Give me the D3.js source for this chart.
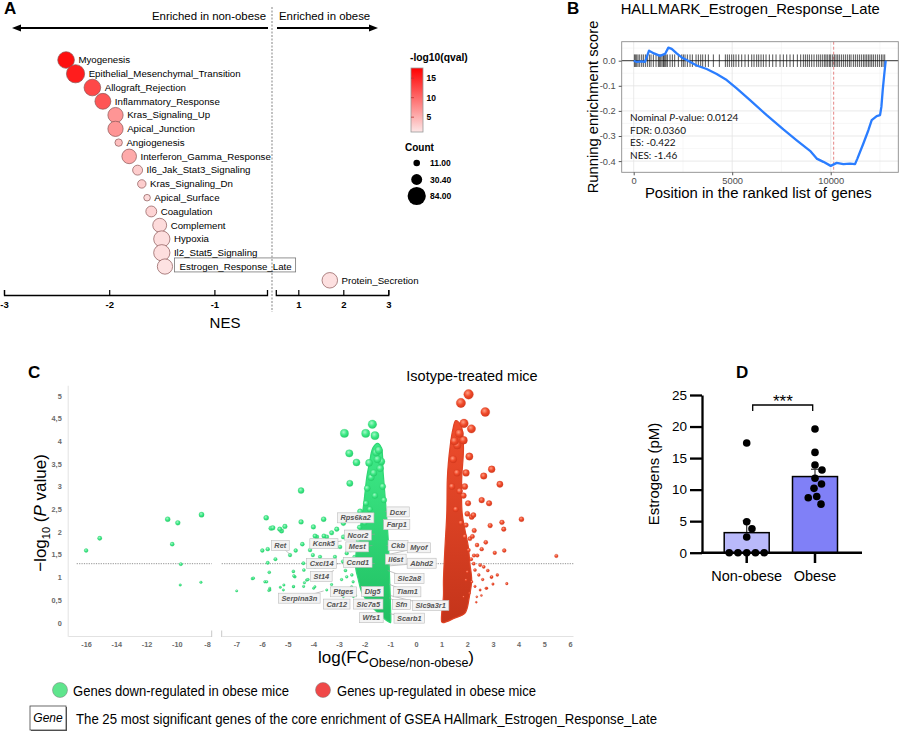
<!DOCTYPE html>
<html><head><meta charset="utf-8">
<script src="https://cdn.jsdelivr.net/npm/d3@7"></script>
<style>
body{margin:0;background:#fff}
svg{display:block}
text{font-family:"Liberation Sans",Arial,sans-serif}
</style>
</head><body>
<svg id="fig" width="900" height="734"></svg>
<script>
// ================= DATA =================
// Panel A – GSEA hallmark dot plot
const pathways = ["Myogenesis","Epithelial_Mesenchymal_Transition","Allograft_Rejection","Inflammatory_Response","Kras_Signaling_Up","Apical_Junction","Angiogenesis","Interferon_Gamma_Response","Il6_Jak_Stat3_Signaling","Kras_Signaling_Dn","Apical_Surface","Coagulation","Complement","Hypoxia","Il2_Stat5_Signaling","Estrogen_Response_Late","Protein_Secretion"];
const pathwayNES = [-2.41,-2.32,-2.16,-2.06,-1.94,-1.94,-1.91,-1.81,-1.73,-1.69,-1.64,-1.60,-1.52,-1.50,-1.50,-1.47,1.70];
const pathwayCount = [70,84,70,64,59,59,14,54,25,18,11,30,49,67,67,59,61];
const pathwayLogQ = [16.5,15.5,12.5,11.5,7,7,4,5.5,3,3,2,2.5,2,1.8,1.8,1.5,1.6];
const highlightedPathway = "Estrogen_Response_Late";
const nesTicksLeft = [-3,-2,-1];
const nesTicksRight = [1,2,3];
const qLegendTicks = [5,10,15];
const countLegend = [11,30.4,84];
const countLegendLabels = ["11.00","30.40","84.00"];

// Panel B – running enrichment score
const rankPos = [0,152,406,575,778,1032,1337,1591,1760,1929,2183,2437,2690,3198,3706,4213,4721,5228,5905,6751,7597,8274,8951,9289,9628,10000,10305,10643,10981,11235,11354,11658,11912,12081,12335,12504,12572,12640,12724,12792];
const runningES = [0,-0.005,-0.003,-0.005,0.040,0.029,0.019,0.027,0.052,0.047,0.029,0.013,0.003,-0.019,-0.033,-0.053,-0.077,-0.110,-0.157,-0.217,-0.274,-0.317,-0.359,-0.390,-0.403,-0.419,-0.407,-0.412,-0.410,-0.412,-0.390,-0.330,-0.277,-0.237,-0.221,-0.217,-0.184,-0.117,-0.050,0.0];
const hitRanks = [34,85,152,220,305,406,491,592,694,795,880,998,1134,1252,1303,1371,1438,1506,1540,1590,1641,1709,1844,1963,2081,2267,2436,2521,2606,2724,2859,2978,3164,3282,3401,3502,3638,3790,4044,4348,4653,4754,4856,4974,5076,5194,5330,5482,5651,5820,5990,6108,6243,6345,6463,6582,6717,6886,7056,7225,7428,7597,7766,7935,8105,8308,8477,8612,8714,8815,8917,9035,9154,9289,9391,9492,9594,9695,9763,9847,9932,10000,10101,10186,10270,10355,10440,10541,10643,10744,10846,10947,11032,11150,11252,11353,11455,11556,11658,11742,11827,11912,11996,12081,12166,12267,12369,12470,12572,12656,12741];
const esTicks = [0,-0.1,-0.2,-0.3,-0.4];
const rankTicks = [0,5000,10000];
const leadingEdgeRank = 10150;
const statLines = ["Nominal |P|-value: 0.0124","FDR: 0.0360","ES: -0.422","NES: -1.46"];

// Panel C – volcano plot
const downFC = [-16.0,-15.1,-10.6,-9.93,-10.3,-8.36,-9.73,-9.77,-8.4,
 -4.48,-5.84,-5.65,-5.58,-5.31,-5.24,-5.11,-4.48,-4.0,-3.94,-4.43,-5.99,-5.78,-4.69,-4.91,-4.02,-5.48,-5.78,-5.72,-6.38,-5.89,-5.74,-5.7,-6.99,-5.29,-5.15,-4.78,-4.76,-4.37,-4.77,-4.38,-3.99,-4.21,-4.35,
 -2.58,-2.32,-2.6,-2.79,-1.96,-1.70,-1.60,-1.83,-1.9,-1.95,-1.45,-3.6,
 -4.13,-3.87,-3.48,-3.29,-3.16,-2.96,-2.83,-4.39,-4.72,-4.26,-3.94,-3.48,-3.29,-3.03,-2.70,-2.51,-2.44,-2.83,-4.78,-3.94,-3.74,-3.22,-5.17,-6.34,-5.82,-5.69,
 -3.59,-3.29,-3.09,-2.83,-2.31,-2.31,-2.18,-2.70,-2.55,
 -1.5,-1.4,-1.75,-1.3,-2.0,-1.6,-1.55,-1.8,-1.35,-1.65,-2.1,-1.25,
 -2.6,-2.75,-2.5,-2.9,-2.4,-2.65,-2.55,-2.45,-2.85,-2.35,-2.2,-2.25];
const downP = [1.59,1.86,2.28,2.20,1.73,2.38,1.29,0.83,0.89,
 2.91,2.31,2.08,2.09,2.06,2.02,2.12,2.22,2.11,1.91,1.73,1.59,1.62,1.59,1.49,1.49,1.40,1.32,1.11,0.97,0.90,0.71,0.76,0.70,0.78,0.83,1.13,1.03,1.16,0.80,0.80,0.76,0.95,0.88,
 3.07,3.53,3.73,4.17,4.17,4.37,4.12,3.52,2.96,2.63,3.80,2.28,
 1.60,1.89,1.89,1.75,1.45,1.67,1.89,1.31,1.01,0.94,0.79,0.72,0.84,0.72,1.01,0.79,0.57,0.57,0.79,1.23,1.45,1.23,0.72,0.98,0.90,0.72,
 1.91,1.98,2.06,2.19,2.34,1.89,2.45,1.53,1.71,
 3.6,3.4,3.2,3.0,2.2,2.8,3.75,2.5,3.55,3.3,1.95,2.7,
 1.3,1.15,1.05,0.95,1.45,0.7,1.6,0.9,1.35,0.6,2.1,1.8];
const upFC = [2.05,1.75,2.70,1.87,2.16,1.69,1.85,1.61,2.08,2.95,2.64,3.27,2.56,2.85,2.03,2.24,4.11,3.35,2.89,3.42,2.27,2.38,2.72,3.44,3.07,2.56,2.17,2.2,2.39,2.26,5.47,
 2.50,2.64,2.95,3.17,3.54,2.76,2.5,2.17,2.30,2.0,1.95,2.08,1.85,2.37,2.94,2.73,
 1.5,1.45,1.6,1.7,1.4,1.75,1.55,1.9,1.95,1.9,1.85,2.0,1.95,2.1,2.05,2.15,
 2.3,2.45,2.6,2.35,2.55,2.8,3.0,2.25];
const upP = [5.03,4.84,4.64,4.39,4.27,4.17,4.02,3.91,3.66,3.38,3.23,3.05,2.70,2.63,2.63,2.37,2.28,2.21,2.14,2.06,2.03,1.71,1.77,1.59,1.54,1.62,2.33,1.9,1.48,1.48,1.47,
 1.27,1.23,1.01,1.05,0.86,0.76,0.72,0.90,1.16,1.12,0.94,0.65,0.57,0.57,1.0,0.76,
 4.0,3.6,3.3,2.9,3.0,2.2,2.5,1.9,3.3,3.0,2.8,2.4,2.15,1.85,1.6,1.4,
 0.8,1.05,0.95,0.45,0.6,1.15,0.85,1.3];
// outlines of the dense clouds of genes (logFC, -log10 P)
const downCloudFC = [-1.00,-1.15,-1.45,-1.8,-2.1,-2.25,-2.35,-2.35,-2.3,-2.2,-2.1,-2.0,-1.92,-1.82,-1.68,-1.5,-1.35,-1.28,-1.18,-1.08,-1.03,-0.99,-0.99];
const downCloudP  = [0.0,0.05,0.2,0.4,0.65,0.95,1.2,1.45,1.7,2.0,2.35,2.8,3.2,3.5,3.85,3.95,3.85,3.3,2.6,1.8,1.0,0.3,0.0];
const upCloudFC = [1.0,1.07,1.07,1.13,1.2,1.22,1.26,1.33,1.43,1.55,1.75,1.85,1.78,1.8,1.91,2.04,2.1,2.17,2.08,1.91,1.5,1.05];
const upCloudP  = [0.02,0.6,0.94,1.67,2.41,3.14,3.51,3.88,4.24,4.45,4.35,3.88,3.14,2.41,2.04,1.67,1.31,0.94,0.57,0.21,0.1,0.0];
const geneNames = ["Dcxr","Farp1","Rps6ka2","Ncor2","Kcnk5","Mest","Ret","Ckb","Myof","Il6st","Abhd2","Cxcl14","Ccnd1","St14","Slc2a8","Ptges","Dlg5","Tiam1","Serpina3n","Car12","Slc7a5","Sfn","Slc9a3r1","Wfs1","Scarb1"];
const geneFC = [-1.2,-1.2,-1.6,-1.6,-2.9,-1.7,-4.9,-1.15,-1.1,-1.15,-1.08,-3.0,-1.6,-3.2,-1.1,-2.5,-1.3,-1.05,-3.6,-2.6,-1.4,-1.05,-1.02,-1.3,-1.02];
const geneP  = [2.45,2.2,2.4,1.95,1.8,1.7,1.5,1.7,1.5,1.35,1.25,1.3,1.3,1.15,1.15,0.8,0.8,0.85,0.7,0.5,0.5,0.55,0.6,0.2,0.2];
const geneLabelFC = [-0.70,-0.75,-2.35,-2.26,-3.59,-2.29,-5.29,-0.70,0.11,-0.79,0.22,-3.68,-2.27,-3.69,-0.26,-2.83,-1.69,-0.34,-4.55,-3.09,-1.86,-0.57,0.57,-1.74,-0.26];
const geneLabelP  = [2.44,2.16,2.31,1.93,1.74,1.67,1.70,1.70,1.65,1.40,1.31,1.30,1.33,1.02,0.97,0.68,0.69,0.68,0.54,0.41,0.41,0.40,0.38,0.11,0.10];
const volcTicksLeft = [-16,-14,-12,-10,-8];
const volcTicksRight = [-7,-6,-5,-4,-3,-2,-1,0,1,2,3,4,5,6];
const volcTicksY = [0,0.5,1,1.5,2,2.5,3,3.5,4,4.5,5];
const pThreshold = 1.3;

// Panel D – estrogens
const groups = ["Non-obese","Obese"];
const nonObeseValues = [17.4,4.9,3.8,2.5,0,0,0,0,0];
const obeseValues = [19.6,15.9,13.9,13.1,11.8,10.9,10.2,8.9,8.7,7.7];
const estrogenTicks = [0,5,10,15,20,25];

// ================= DRAWING =================
const svg = d3.select("#fig");
svg.append("rect").attr("width",900).attr("height",734).attr("fill","#fff");
const defs = svg.append("defs");

function styleAxis(g, col, size, weight){
  g.selectAll("text").attr("fill",col).style("font-size",size+"px").style("font-weight",weight)
   .style("font-family",'"Liberation Sans",Arial,sans-serif');
}

// ---------- Panel A ----------
const gA = svg.append("g");
const xAL = d3.scaleLinear().domain([-3,-0.5]).range([4,267]);
const xAR = d3.scaleLinear().domain([0.5,3]).range([275.8,388.3]);
const xA = v => v < 0 ? xAL(v) : xAR(v);
const yA = d3.scalePoint().domain(pathways).range([60,280.3]);
const rA = d3.scaleSqrt().domain([0,84]).range([0,9.1]);
const cA = d3.scaleLinear().domain([1.2,17.6]).range(["#fde6e6","#ff0000"]);

gA.append("text").attr("x",4).attr("y",14).text("A").style("font-weight","bold").style("font-size","17px");
gA.append("line").attr("x1",272).attr("x2",272).attr("y1",7).attr("y2",312)
  .attr("stroke","#999").attr("stroke-width",1.2).attr("stroke-dasharray","2,1.5");
gA.append("text").attr("x",266).attr("y",20).attr("text-anchor","end").text("Enriched in non-obese").style("font-size","11.4px");
gA.append("text").attr("x",279).attr("y",20).text("Enriched in obese").style("font-size","11.4px");
gA.append("line").attr("x1",268).attr("x2",20).attr("y1",28).attr("y2",28).attr("stroke","#000").attr("stroke-width",1.8);
gA.append("path").attr("d","M12,28L21,24.5L21,31.5Z").attr("fill","#000");
gA.append("line").attr("x1",277).attr("x2",370).attr("y1",28).attr("y2",28).attr("stroke","#000").attr("stroke-width",1.8);
gA.append("path").attr("d","M378,28L369,24.5L369,31.5Z").attr("fill","#000");

const aAxL = gA.append("g").attr("transform","translate(0,295)")
  .call(d3.axisBottom(xAL).tickValues(nesTicksLeft).tickSizeInner(-5).tickSizeOuter(-5).tickPadding(6).tickFormat(d=>String(d)));
const aAxR = gA.append("g").attr("transform","translate(0,295)")
  .call(d3.axisBottom(xAR).tickValues(nesTicksRight).tickSizeInner(-5).tickSizeOuter(-5).tickPadding(6).tickFormat(d=>String(d)));
[aAxL,aAxR].forEach(g=>{g.select(".domain").attr("stroke","#000").attr("stroke-width",1.3);
  g.selectAll(".tick line").attr("stroke","#000").attr("stroke-width",1.2); styleAxis(g,"#000",9.5,"bold");});
gA.append("text").attr("x",225).attr("y",328).attr("text-anchor","middle").text("NES").style("font-size","15px");

pathways.forEach((p,i)=>{
  const cx = xA(pathwayNES[i]), cy = yA(p), r = rA(pathwayCount[i]);
  gA.append("circle").attr("cx",cx).attr("cy",cy).attr("r",r)
    .attr("fill",cA(pathwayLogQ[i])).attr("stroke","#8a5555").attr("stroke-width",0.7);
  const t = gA.append("text").attr("x",cx+r+(p===highlightedPathway?7:4)).attr("y",cy+3.3).text(p).style("font-size","9.7px");
  if(p===highlightedPathway){
    const w = t.node().getComputedTextLength();
    gA.insert("rect","text").attr("x",cx+r+2).attr("y",cy-8.6).attr("width",w+9).attr("height",14)
      .attr("fill","#fff").attr("stroke","#777").attr("stroke-width",0.8);
    t.raise();
  }
});

// color legend
const grad = defs.append("linearGradient").attr("id","qgrad").attr("x1",0).attr("x2",0).attr("y1",0).attr("y2",1);
grad.append("stop").attr("offset","0%").attr("stop-color",cA(17.6));
grad.append("stop").attr("offset","100%").attr("stop-color",cA(1.2));
const yQ = d3.scaleLinear().domain([1.2,17.6]).range([132,68]);
gA.append("text").attr("x",410).attr("y",61).text("-log10(qval)").style("font-size","10.3px").style("font-weight","bold");
gA.append("rect").attr("x",411).attr("y",68).attr("width",12).attr("height",64).attr("fill","url(#qgrad)").attr("stroke","#999").attr("stroke-width",0.8);
qLegendTicks.forEach(q=>{
  gA.append("line").attr("x1",411).attr("x2",414).attr("y1",yQ(q)).attr("y2",yQ(q)).attr("stroke","#b33").attr("stroke-width",0.8);
  gA.append("text").attr("x",426.5).attr("y",yQ(q)+3.2).text(q).style("font-size","8.5px").style("font-weight","bold");
});
gA.append("text").attr("x",405).attr("y",151).text("Count").style("font-size","10px").style("font-weight","bold");
const countY = d3.scalePoint().domain(countLegend).range([163,196]);
countLegend.forEach((c,i)=>{
  gA.append("circle").attr("cx",416.7).attr("cy",countY(c)).attr("r",rA(c)).attr("fill","#000");
  gA.append("text").attr("x",430).attr("y",countY(c)+3.2).text(countLegendLabels[i]).style("font-size","8.5px").style("font-weight","bold");
});

// ---------- Panel B ----------
const gB = svg.append("g");
const xB = d3.scaleLinear().domain([-609,13431]).range([621.7,898.3]);
const yB = d3.scaleLinear().domain([0.0757,-0.4446]).range([41.7,172.3]);
gB.append("text").attr("x",567).attr("y",13.5).text("B").style("font-weight","bold").style("font-size","17px");
gB.append("text").attr("x",620.7).attr("y",13.5).text("HALLMARK_Estrogen_Response_Late").style("font-size","14.8px");
gB.append("rect").attr("x",621.7).attr("y",41.7).attr("width",276.6).attr("height",130.6).attr("fill","#fff");
const minorX = [2500,7500,12500], minorY=[0.05,-0.05,-0.15,-0.25,-0.35];
minorX.forEach(v=>gB.append("line").attr("x1",xB(v)).attr("x2",xB(v)).attr("y1",41.7).attr("y2",172.3).attr("stroke","#f2f2f2").attr("stroke-width",0.6));
minorY.forEach(v=>gB.append("line").attr("y1",yB(v)).attr("y2",yB(v)).attr("x1",621.7).attr("x2",898.3).attr("stroke","#f2f2f2").attr("stroke-width",0.6));
rankTicks.forEach(v=>gB.append("line").attr("x1",xB(v)).attr("x2",xB(v)).attr("y1",41.7).attr("y2",172.3).attr("stroke","#e3e3e3").attr("stroke-width",0.8));
esTicks.forEach(v=>gB.append("line").attr("y1",yB(v)).attr("y2",yB(v)).attr("x1",621.7).attr("x2",898.3).attr("stroke","#e3e3e3").attr("stroke-width",0.8));
gB.append("line").attr("x1",xB(leadingEdgeRank)).attr("x2",xB(leadingEdgeRank)).attr("y1",41.7).attr("y2",172.3)
  .attr("stroke","#e06a6a").attr("stroke-width",0.8).attr("stroke-dasharray","3,2");
gB.append("line").attr("x1",621.7).attr("x2",898.3).attr("y1",yB(0)).attr("y2",yB(0)).attr("stroke","#222").attr("stroke-width",0.9);
hitRanks.forEach(h=>gB.append("line").attr("x1",xB(h)).attr("x2",xB(h)).attr("y1",yB(0.025)).attr("y2",yB(-0.025))
  .attr("stroke","#111").attr("stroke-opacity",0.8).attr("stroke-width",0.9));
gB.append("path").datum(rankPos.map((r,i)=>[r,runningES[i]]))
  .attr("d",d3.line().x(d=>xB(d[0])).y(d=>yB(d[1])))
  .attr("fill","none").attr("stroke","#2a7dff").attr("stroke-width",2.3).attr("stroke-linejoin","round");
gB.append("rect").attr("x",621.7).attr("y",41.7).attr("width",276.6).attr("height",130.6).attr("fill","none").attr("stroke","#8c8c8c").attr("stroke-width",0.9);
const bAxY = gB.append("g").attr("transform","translate(621.7,0)").call(d3.axisLeft(yB).tickValues(esTicks).tickSize(3).tickPadding(3).tickFormat(d=>d.toFixed(1)));
const bAxX = gB.append("g").attr("transform","translate(0,172.3)").call(d3.axisBottom(xB).tickValues(rankTicks).tickSize(3).tickPadding(2).tickFormat(d=>String(d)));
[bAxY,bAxX].forEach(g=>{g.select(".domain").remove(); g.selectAll(".tick line").attr("stroke","#555"); styleAxis(g,"#4d4d4d",9.3,"normal");});
gB.append("text").attr("transform","translate(598,107) rotate(-90)").attr("text-anchor","middle").text("Running enrichment score").style("font-size","14.8px");
gB.append("text").attr("x",758.3).attr("y",198).attr("text-anchor","middle").text("Position in the ranked list of genes").style("font-size","14.9px");
statLines.forEach((s,i)=>{
  const t = gB.append("text").attr("x",630).attr("y",121+i*12.7).style("font-size","10px").style("font-family","Lato, sans-serif").attr("fill","#111");
  s.split("|").forEach((part,j)=>t.append("tspan").text(part).style("font-style",j===1?"italic":"normal"));
});

// ---------- Panel C ----------
const gC = svg.append("g");
const yC = d3.scaleLinear().domain([0,5]).range([622.7,395.7]);
const xCL = d3.scaleLinear().domain([-17.2,-7.7]).range([68,211.5]);
const xCR = d3.scaleLinear().domain([-7.57,6.12]).range([221.8,573]);
const xC = v => v < -7.6 ? xCL(v) : xCR(v);
const rC = d3.scaleLinear().domain([0.5,5]).range([1,4.8]).clamp(true);

gC.append("text").attr("x",28).attr("y",378).text("C").style("font-weight","bold").style("font-size","17px");
gC.append("text").attr("x",472).attr("y",381).attr("text-anchor","middle").text("Isotype-treated mice").style("font-size","14.5px");

function mkGrad(id, c0, c1){
  const g = defs.append("linearGradient").attr("id",id).attr("x1",0).attr("x2",0).attr("y1",0).attr("y2",1);
  g.append("stop").attr("offset","0%").attr("stop-color",c0);
  g.append("stop").attr("offset","100%").attr("stop-color",c1);
}
function mkRad(id, c0, c1, c2){
  const g = defs.append("radialGradient").attr("id",id).attr("cx","40%").attr("cy","35%").attr("r","65%");
  g.append("stop").attr("offset","0%").attr("stop-color",c0);
  g.append("stop").attr("offset","55%").attr("stop-color",c1);
  g.append("stop").attr("offset","100%").attr("stop-color",c2);
}
mkGrad("gEnv","#3eea87","#20bf62");
mkGrad("rEnv","#ef4d2d","#c4341a");
mkRad("gPt","#a6f8c9","#3de985","#27cf6d");
mkRad("rPt","#ff9e84","#ef4a2a","#d6391d");

const cAxL = gC.append("g").attr("transform","translate(0,636)").call(d3.axisBottom(xCL).tickValues(volcTicksLeft).tickSize(0).tickPadding(6).tickFormat(d=>String(d)));
const cAxR = gC.append("g").attr("transform","translate(0,636)").call(d3.axisBottom(xCR).tickValues(volcTicksRight).tickSize(0).tickPadding(6).tickFormat(d=>String(d)));
const yCax = d3.scaleLinear().domain([-0.3,5.23]).range([yC(-0.3),yC(5.23)]);
const cAxY = gC.append("g").attr("transform","translate(67.7,0)").call(d3.axisLeft(yCax).tickValues(volcTicksY).tickSize(0).tickPadding(6).tickFormat(d=>String(d).replace(".",",")));
[cAxL,cAxR,cAxY].forEach(g=>{g.select(".domain").attr("stroke","#e2e2e2").attr("stroke-width",1); styleAxis(g,"#6a6a6a",7.3,"bold");});
[211.7,221.7].forEach(x=>gC.append("line").attr("x1",x).attr("x2",x).attr("y1",630.5).attr("y2",637).attr("stroke","#c8c8c8").attr("stroke-width",1));
gC.append("line").attr("x1",76.7).attr("x2",211.7).attr("y1",yC(pThreshold)).attr("y2",yC(pThreshold)).attr("stroke","#777").attr("stroke-width",0.8).attr("stroke-dasharray","1.2,1.2");
gC.append("line").attr("x1",221.7).attr("x2",573.3).attr("y1",yC(pThreshold)).attr("y2",yC(pThreshold)).attr("stroke","#777").attr("stroke-width",0.8).attr("stroke-dasharray","1.2,1.2");

const cloudLine = d3.line().x(d=>xC(d[0])).y(d=>yC(d[1])).curve(d3.curveCatmullRomClosed.alpha(0.5));
gC.append("path").datum(downCloudFC.map((v,i)=>[v,downCloudP[i]])).attr("d",cloudLine)
  .attr("fill","url(#gEnv)").attr("stroke","#2fd774").attr("stroke-width",1.2);
gC.append("path").datum(upCloudFC.map((v,i)=>[v,upCloudP[i]])).attr("d",cloudLine)
  .attr("fill","url(#rEnv)").attr("stroke","#de4224").attr("stroke-width",1.2);
const downPts = downFC.map((v,i)=>({x:v,y:downP[i]})).sort((a,b)=>a.y-b.y);
const upPts = upFC.map((v,i)=>({x:v,y:upP[i]})).sort((a,b)=>a.y-b.y);
gC.selectAll("circle.dn").data(downPts).join("circle").attr("class","dn")
  .attr("cx",d=>xC(d.x)).attr("cy",d=>yC(d.y)).attr("r",d=>rC(d.y))
  .attr("fill","url(#gPt)").attr("stroke","#29c96b").attr("stroke-width",0.3);
gC.selectAll("circle.up").data(upPts).join("circle").attr("class","up")
  .attr("cx",d=>xC(d.x)).attr("cy",d=>yC(d.y)).attr("r",d=>rC(d.y))
  .attr("fill","url(#rPt)").attr("stroke","#d13a1e").attr("stroke-width",0.3);

const gLab = gC.append("g");
geneNames.forEach((n,i)=>{
  gLab.append("line").attr("x1",xC(geneLabelFC[i])).attr("y1",yC(geneLabelP[i])).attr("x2",xC(geneFC[i])).attr("y2",yC(geneP[i]))
    .attr("stroke","#9a9a9a").attr("stroke-width",0.6);
});
geneNames.forEach((n,i)=>{
  const lx = xC(geneLabelFC[i]), ly = yC(geneLabelP[i]);
  const g = gLab.append("g");
  const t = g.append("text").attr("x",lx).attr("y",ly+2.6).attr("text-anchor","middle").text(n)
    .style("font-size","7.4px").style("font-weight","bold").style("font-style","italic").attr("fill","#555");
  const w = t.node().getComputedTextLength();
  g.insert("rect","text").attr("x",lx-w/2-3).attr("y",ly-5).attr("width",w+6).attr("height",10)
    .attr("fill","#f3f3f3").attr("stroke","#bdbdbd").attr("stroke-width",0.6);
});

const yt = gC.append("text").attr("transform","translate(46,513) rotate(-90)").attr("text-anchor","middle").style("font-size","17px");
yt.append("tspan").text("\u2212log");
yt.append("tspan").text("10").style("font-size","11px").attr("dy",4);
yt.append("tspan").text(" (").attr("dy",-4);
yt.append("tspan").text("P").style("font-style","italic");
yt.append("tspan").text(" value)");
const xt = gC.append("text").attr("x",396).attr("y",663).attr("text-anchor","middle").style("font-size","17px");
xt.append("tspan").text("log(FC");
xt.append("tspan").text("Obese/non-obese").style("font-size","12.5px").attr("dy",4);
xt.append("tspan").text(")").attr("dy",-4);

// legend
const gL = svg.append("g");
const narrow = '"Liberation Sans Narrow","Arial Narrow","Liberation Sans",sans-serif';
gL.append("circle").attr("cx",60).attr("cy",690).attr("r",7.5).attr("fill","#5fe58d").attr("stroke","#7a7a7a").attr("stroke-width",0.5);
gL.append("text").attr("x",73).attr("y",695.5).text("Genes down-regulated in obese mice").style("font-family",narrow).style("font-size","15.5px")
  .attr("textLength",216).attr("lengthAdjust","spacingAndGlyphs");
gL.append("circle").attr("cx",323).attr("cy",690).attr("r",7.5).attr("fill","#f04848").attr("stroke","#7a7a7a").attr("stroke-width",0.5);
gL.append("text").attr("x",337).attr("y",695.5).text("Genes up-regulated in obese mice").style("font-family",narrow).style("font-size","15.5px")
  .attr("textLength",199).attr("lengthAdjust","spacingAndGlyphs");
gL.append("rect").attr("x",31).attr("y",707).attr("width",36).attr("height",24).attr("fill","#555");
gL.append("rect").attr("x",30).attr("y",706).attr("width",36).attr("height",24).attr("fill","#fff").attr("stroke","#444").attr("stroke-width",0.8);
gL.append("text").attr("x",48).attr("y",722).attr("text-anchor","middle").text("Gene").style("font-family",narrow).style("font-size","12px").style("font-style","italic");
gL.append("text").attr("x",76).attr("y",724).text("The 25 most significant genes of the core enrichment of GSEA HAllmark_Estrogen_Response_Late")
  .style("font-family",narrow).style("font-size","15.5px").attr("textLength",581).attr("lengthAdjust","spacingAndGlyphs");

// ---------- Panel D ----------
const gD = svg.append("g");
const yD = d3.scaleLinear().domain([0,25]).range([552.7,395]);
const xD = d3.scalePoint().domain(groups).range([746.7,815]);
const groupVals = [nonObeseValues, obeseValues];
const barFill = ["#b9b9fa","#8080f7"];
gD.append("text").attr("x",736).attr("y",378).text("D").style("font-weight","bold").style("font-size","17px");

groups.forEach((g,i)=>{
  const vals = groupVals[i];
  const m = d3.mean(vals), sem = d3.deviation(vals)/Math.sqrt(vals.length);
  const cx = xD(g);
  gD.append("line").attr("x1",cx).attr("x2",cx).attr("y1",yD(m)).attr("y2",yD(m+sem)).attr("stroke","#333").attr("stroke-width",1.2);
  gD.append("line").attr("x1",cx-4).attr("x2",cx+4).attr("y1",yD(m+sem)).attr("y2",yD(m+sem)).attr("stroke","#333").attr("stroke-width",1.2);
  gD.append("rect").attr("x",cx-22.5).attr("y",yD(m)).attr("width",45).attr("height",yD(0)-yD(m))
    .attr("fill",barFill[i]).attr("stroke","#000").attr("stroke-width",1.5);
});
function swarm(vals, d){
  const order = vals.map((v,i)=>i).sort((a,b)=>vals[b]-vals[a]);
  const placed=[]; const off=new Array(vals.length);
  order.forEach(i=>{
    const yi=yD(vals[i]); let best=null;
    for(let k=0;k<400 && best===null;k++){
      const cands = k===0?[0]:[k*0.25,-k*0.25];
      for(const c of cands){ if(placed.every(p=>Math.hypot(p.x-c,p.y-yi)>=d-0.01)){best=c;break;} }
    }
    off[i]=best; placed.push({x:best,y:yi});
  });
  return off;
}
groups.forEach((g,i)=>{
  const vals = groupVals[i]; const off = swarm(vals, 8.6);
  vals.forEach((v,j)=>gD.append("circle").attr("cx",xD(g)+off[j]).attr("cy",yD(v)).attr("r",3.8).attr("fill","#000"));
});
const dAxY = gD.append("g").attr("transform","translate(702,0)").call(d3.axisLeft(yD).tickValues(estrogenTicks).tickSize(12).tickSizeOuter(0).tickPadding(3));
dAxY.select(".domain").attr("stroke","#000").attr("stroke-width",2.3);
dAxY.selectAll(".tick line").attr("stroke","#000").attr("stroke-width",2.3);
styleAxis(dAxY,"#000",13.5,"normal");
gD.append("line").attr("x1",701).attr("x2",862).attr("y1",552.7).attr("y2",552.7).attr("stroke","#000").attr("stroke-width",2.5);
groups.forEach(g=>{
  gD.append("line").attr("x1",xD(g)).attr("x2",xD(g)).attr("y1",553).attr("y2",563).attr("stroke","#000").attr("stroke-width",2.5);
  gD.append("text").attr("x",xD(g)).attr("y",580.5).attr("text-anchor","middle").text(g).style("font-size","14.5px");
});
gD.append("text").attr("transform","translate(659,474) rotate(-90)").attr("text-anchor","middle").text("Estrogens (pM)").style("font-size","15px");
gD.append("path").attr("d",`M${xD(groups[0])+6},411V405H${xD(groups[1])-2.3}V411`).attr("fill","none").attr("stroke","#000").attr("stroke-width",1.3);
gD.append("text").attr("x",(xD(groups[0])+xD(groups[1]))/2+2).attr("y",407).attr("text-anchor","middle").text("***").style("font-size","17px");
</script>
</body></html>
